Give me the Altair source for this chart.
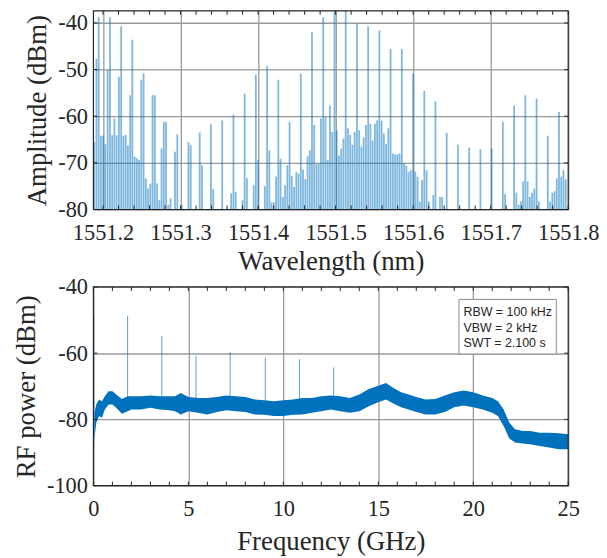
import altair as alt
import pandas as pd

# ---------------- data: optical spectrum (top panel) ----------------
wl_main = [1551.1944, 1551.2089, 1551.2234, 1551.2378, 1551.2523, 1551.2668, 1551.2813,
           1551.2958, 1551.3102, 1551.3247, 1551.3392, 1551.3537, 1551.3682, 1551.3827,
           1551.3971, 1551.4116, 1551.4261, 1551.4406, 1551.4551, 1551.4695, 1551.4840,
           1551.4985, 1551.5130, 1551.5275, 1551.5420, 1551.5564, 1551.5709, 1551.5854,
           1551.5999, 1551.6144, 1551.6288, 1551.6433, 1551.6578, 1551.6723, 1551.6868,
           1551.7013, 1551.7157, 1551.7302, 1551.7447, 1551.7592, 1551.7737, 1551.7881]
amp_main = [-38.7, -38.8, -40.7, -43.6, -50.8, -55.5, -61.2, -63.9, -65.5, -63.5,
            -61.7, -60.9, -59.7, -55.2, -51.1, -49.3, -52.2, -61.2, -50.9, -42.0,
            -38.8, -37.0, -37.0, -40.2, -40.7, -41.6, -45.6, -45.6, -50.9, -54.6,
            -56.8, -63.6, -66.1, -66.7, -67.1, -66.9, -61.2, -57.7, -55.5, -56.2,
            -64.2, -59.1]
# weaker lines between neighbouring main lines (4 per gap, in order of wavelength)
sub_amp = [
    [-64.2, -64.2, -66.0, -50.1], [-64.1, -60.5, -64.1, -51.6], [-64.2, -64.0, -66.3, -55.5],
    [-68.7, -69.0, -69.4, -52.2], [-73.3, -75.5, -74.5, -55.5], [-74.4, -78.0, -66.9, -61.2],
    [-79.0, -77.6, -80.0, -67.6], [-80.0, -79.0, -80.0, -80.0], [-66.2, -80.0, -80.0, -80.0],
    [-70.5, -80.0, -80.0, -80.0], [-75.6, -80.0, -80.0, -80.0], [-80.0, -80.0, -80.0, -76.5],
    [-76.2, -80.0, -80.0, -78.0], [-73.3, -80.0, -80.0, -74.8], [-69.4, -80.0, -80.0, -75.0],
    [-67.3, -78.5, -78.5, -73.0], [-69.1, -77.3, -74.8, -70.5], [-72.8, -75.1, -71.9, -72.3],
    [-71.4, -73.5, -68.6, -67.3], [-61.9, -70.3, -70.2, -60.5], [-60.2, -69.4, -57.7, -63.4],
    [-63.0, -68.4, -66.9, -64.8], [-62.6, -64.0, -66.1, -63.4], [-63.0, -66.5, -64.5, -61.9],
    [-61.6, -65.2, -61.6, -60.9], [-60.9, -63.7, -65.9, -62.6], [-68.0, -68.2, -68.2, -68.0],
    [-70.1, -70.6, -71.9, -71.6], [-71.9, -73.0, -78.3, -73.7], [-71.6, -78.3, -80.0, -76.9],
    [-80.0, -77.3, -77.3, -80.0], [-80.0, -80.0, -80.0, -80.0], [-80.0, -80.0, -80.0, -80.0],
    [-80.0, -80.0, -80.0, -80.0], [-80.0, -80.0, -80.0, -80.0], [-80.0, -80.0, -80.0, -80.0],
    [-76.7, -80.0, -80.0, -80.0], [-76.4, -79.0, -78.3, -74.0], [-74.0, -77.3, -76.4, -75.5],
    [-78.3, -80.0, -80.0, -80.0], [-78.3, -76.4, -76.1, -73.3],
]
pre_amp = [-65.5, -47.7]          # lines left of the first main line
post_amp = [-73.0, -71.6, -73.5]  # lines right of the last main line
wl_ticks = [1551.2, 1551.3, 1551.4, 1551.5, 1551.6, 1551.7, 1551.8]
amp_ticks = [-80, -70, -60, -50, -40]

# ---------------- data: RF spectrum (bottom panel) ----------------
rf_f = [0.05, 0.15, 0.3, 0.45, 0.6, 0.8, 1.0, 1.2, 1.5, 1.8, 2.0, 2.5, 3.0, 3.5, 4.0, 4.3,
        4.6, 5.0, 5.5, 6.0, 6.5, 7.0, 7.5, 8.0, 8.5, 9.0, 9.5, 10.0, 10.5, 11.0, 11.5, 12.0,
        12.5, 13.0, 13.5, 14.0, 14.5, 15.0, 15.4, 15.8, 16.2, 16.6, 17.0, 17.5, 18.0, 18.5,
        19.0, 19.5, 20.0, 20.5, 21.0, 21.3, 21.6, 21.9, 22.2, 22.6, 23.0, 23.5, 24.0, 24.5, 25.0]
rf_hi = [-78.0, -75.5, -74.0, -74.5, -73.0, -71.5, -71.5, -72.5, -73.8, -73.0, -73.0, -73.0,
         -72.8, -73.0, -73.0, -73.0, -72.0, -73.2, -73.5, -73.5, -73.2, -72.8, -73.0, -73.2,
         -74.0, -74.2, -74.5, -74.2, -74.0, -73.5, -73.5, -73.0, -72.8, -73.0, -73.5, -72.5,
         -70.8, -69.8, -69.0, -70.5, -71.8, -72.5, -73.2, -74.0, -73.8, -72.8, -71.8, -71.3,
         -71.8, -72.8, -73.5, -74.5, -77.0, -81.0, -83.0, -83.5, -83.5, -84.0, -84.0, -84.2, -84.5]
rf_lo = [-86.0, -81.0, -79.0, -79.5, -77.0, -75.5, -75.5, -76.5, -78.3, -77.5, -77.0, -77.0,
         -76.5, -77.0, -77.2, -77.5, -78.5, -77.5, -78.0, -78.5, -77.8, -77.2, -77.5, -77.8,
         -78.5, -78.6, -79.0, -79.0, -78.6, -78.5, -78.0, -77.5, -77.0, -77.5, -78.0, -77.5,
         -76.0, -74.8, -74.0, -75.2, -76.3, -77.0, -77.8, -78.5, -78.5, -77.8, -76.3, -75.8,
         -76.3, -77.0, -78.0, -79.0, -82.0, -85.8, -87.0, -87.3, -87.5, -88.0, -88.5, -89.0, -89.0]
spike_f = [0.02, 1.8, 3.6, 5.4, 7.2, 9.05, 10.85, 12.65]
spike_top = [-49.0, -48.7, -54.8, -60.8, -59.7, -61.3, -61.8, -64.3]
spike_base = [-88.5, -74.0, -74.0, -74.5, -74.0, -74.5, -74.5, -74.0]
f_ticks = [0, 5, 10, 15, 20, 25]
rf_ticks = [-100, -80, -60, -40]
note_lines = ["RBW = 100 kHz", "VBW = 2 kHz", "SWT = 2.100 s"]

# ---------------- styling ----------------
SERIF = "Liberation Serif"
TXT = "#262626"
GRID = "#9a9a9a"
BLUE = "#0072BD"
W, H = 478, 200
SP = (wl_main[-1] - wl_main[0]) / (len(wl_main) - 1)

rows = [{"wl": w, "amp": a, "base": -80.0} for w, a in zip(wl_main, amp_main)]
for k, grp in enumerate(sub_amp):
    for j, a in enumerate(grp):
        rows.append({"wl": wl_main[k] + (j + 1) * SP / 5, "amp": a, "base": -80.0})
for j, a in enumerate(pre_amp):
    rows.append({"wl": wl_main[0] - (len(pre_amp) - j) * SP / 5, "amp": a, "base": -80.0})
for j, a in enumerate(post_amp):
    rows.append({"wl": wl_main[-1] + (j + 1) * SP / 5, "amp": a, "base": -80.0})
df_opt = pd.DataFrame(rows)

df_rf = pd.DataFrame({"f": rf_f, "hi": rf_hi, "lo": rf_lo})
df_sp = pd.DataFrame({"f": spike_f, "top": spike_top, "base": spike_base})


def ax(values, title, expr, is_x, tpad):
    return alt.Axis(values=values, grid=True, gridColor=GRID, gridWidth=1.3, gridOpacity=1,
                    ticks=False, tickSize=0, domain=False, labelExpr=expr,
                    labelFont=SERIF, labelFontSize=22.5, labelColor=TXT,
                    labelPadding=12 if is_x else 6, labelFlush=False, labelOverlap=False,
                    title=title, titleFont=SERIF, titleFontSize=27, titleFontWeight="normal",
                    titleColor=TXT, titlePadding=tpad)


def tick_layers(xscale, yscale, xaxis, yaxis, xvals, yvals):
    dx = pd.DataFrame({"v": xvals})
    dy = pd.DataFrame({"v": yvals})
    base_x = alt.Chart(dx).mark_rule(color=TXT, strokeWidth=1)
    base_y = alt.Chart(dy).mark_rule(color=TXT, strokeWidth=1)
    return [
        base_x.encode(x=alt.X("v:Q", scale=xscale, axis=xaxis), y=alt.value(H), y2=alt.value(H - 4)),
        base_x.encode(x=alt.X("v:Q", scale=xscale, axis=xaxis), y=alt.value(0), y2=alt.value(4)),
        base_y.encode(y=alt.Y("v:Q", scale=yscale, axis=yaxis), x=alt.value(0), x2=alt.value(4)),
        base_y.encode(y=alt.Y("v:Q", scale=yscale, axis=yaxis), x=alt.value(W), x2=alt.value(W - 4)),
    ]


def frame():
    return alt.Chart(pd.DataFrame({"a": [0]})).mark_rect(
        fill="transparent", stroke=TXT, strokeWidth=1.2
    ).encode(x=alt.value(0), x2=alt.value(W), y=alt.value(0), y2=alt.value(H))


# ---------------- top panel ----------------
xs_top = alt.Scale(domain=[1551.1876, 1551.8], nice=False, zero=False)
ys_top = alt.Scale(domain=[-80, -37.4], nice=False, zero=False)
xa_top = ax(wl_ticks, "Wavelength (nm)", "format(datum.value, '.1f')", True, 5)
ya_top = ax(amp_ticks, "Amplitude (dBm)", "'' + datum.value", False, 6)
stems = alt.Chart(df_opt).mark_rule(color=BLUE, strokeWidth=1.8, opacity=0.5, clip=True).encode(
    x=alt.X("wl:Q", scale=xs_top, axis=xa_top),
    y=alt.Y("amp:Q", scale=ys_top, axis=ya_top),
    y2=alt.Y2("base:Q"),
)
minor_wl = [round(1551.2 + 0.02 * i, 2) for i in range(31)]
top = alt.layer(stems, *tick_layers(xs_top, ys_top, xa_top, ya_top, minor_wl, amp_ticks),
                frame()).properties(width=W, height=H)

# ---------------- bottom panel ----------------
xs_bot = alt.Scale(domain=[0, 25], nice=False, zero=False)
ys_bot = alt.Scale(domain=[-100, -40], nice=False, zero=False)
xa_bot = ax(f_ticks, "Frequency (GHz)", "'' + datum.value", True, 9)
ya_bot = ax(rf_ticks, "RF power (dBm)", "'' + datum.value", False, 6)
band = alt.Chart(df_rf).mark_area(color=BLUE, opacity=1, clip=True).encode(
    x=alt.X("f:Q", scale=xs_bot, axis=xa_bot),
    y=alt.Y("hi:Q", scale=ys_bot, axis=ya_bot),
    y2=alt.Y2("lo:Q"),
)
spikes = alt.Chart(df_sp).mark_rule(color=BLUE, strokeWidth=1, opacity=0.65, clip=True).encode(
    x=alt.X("f:Q", scale=xs_bot, axis=xa_bot),
    y=alt.Y("top:Q", scale=ys_bot, axis=ya_bot),
    y2=alt.Y2("base:Q"),
)
box = alt.Chart(pd.DataFrame({"a": [0]})).mark_rect(
    fill="white", stroke="#8c8c8c", strokeWidth=1
).encode(x=alt.value(368), x2=alt.value(466), y=alt.value(12.5), y2=alt.value(67.5))
note_y = [25, 41.5, 56.5]
notes = [
    alt.Chart(pd.DataFrame({"a": [0]})).mark_text(
        align="left", baseline="middle", font="Liberation Sans", fontSize=12.5, color=TXT
    ).encode(x=alt.value(372.5), y=alt.value(yy), text=alt.value(t))
    for t, yy in zip(note_lines, note_y)
]
bottom = alt.layer(band, spikes,
                   *tick_layers(xs_bot, ys_bot, xa_bot, ya_bot, list(range(26)), rf_ticks),
                   box, *notes, frame()).properties(width=W, height=H)

chart = alt.vconcat(top, bottom, spacing=1,
                    padding={"left": 4, "top": 0, "right": 0, "bottom": 0},
                    background="white").configure_view(stroke=None)
chart.save("out.html", embed_options={"renderer": "svg", "actions": False})
